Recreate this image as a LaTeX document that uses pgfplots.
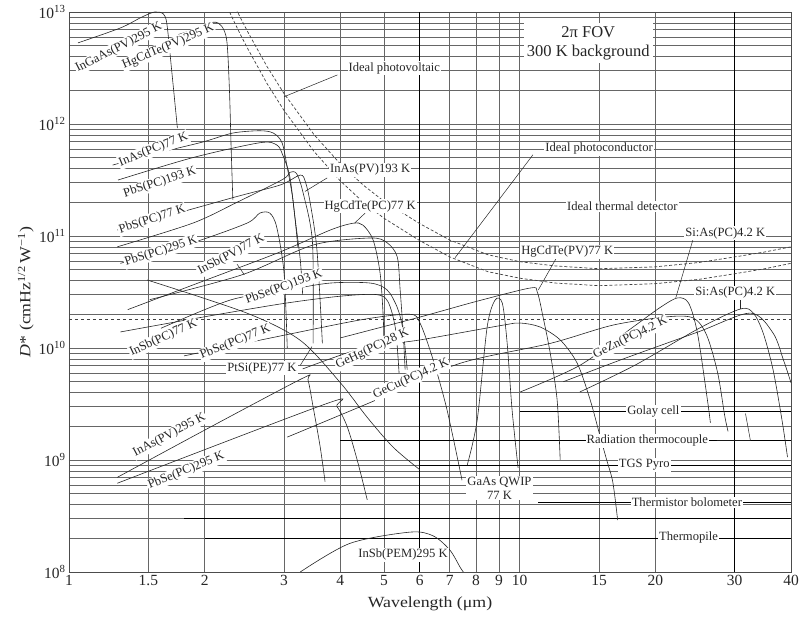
\documentclass[border=0pt]{standalone}
\usepackage{fontspec}
\setmainfont{Liberation Serif}
\newfontfamily\widefont{Liberation Serif}[FakeStretch=1.15]
\usepackage{pgfplots}
\pgfplotsset{compat=1.18}
\tikzset{
  lbl/.style={fill=white, inner sep=1.1pt, font=\fontsize{12.6}{14}\selectfont, text=black!85},
  ptr/.style={black!85, line width=0.5pt},
}
\begin{document}
\begin{tikzpicture}
\begin{axis}[
  scale only axis, width=722pt, height=560pt,
  xmode=log, ymode=log,
  xmin=1, xmax=40, ymin=1e8, ymax=1e13,
  xtick={1,1.5,2,3,4,5,6,7,8,9,10,15,20,30,40},
  xticklabels={1,1.5,2,3,4,5,6,7,8,9,10,15,20,30,40},
  minor xtick={},
  ytick={1e8,1e9,1e10,1e11,1e12,1e13},
  yticklabels={10\textsuperscript{8},10\textsuperscript{9},10\textsuperscript{10},10\textsuperscript{11},10\textsuperscript{12},10\textsuperscript{13}},
  xmajorgrids, ymajorgrids, yminorgrids,
  major grid style={black!60, line width=0.9pt},
  minor grid style={black!60, line width=0.55pt},
  major tick length=0pt, minor tick length=0pt,
  tick label style={font=\fontsize{15.5}{17}\selectfont, text=black!85},
  xlabel={\widefont Wavelength (μm)},
  ylabel={\widefont\textit{D}* (cmHz\textsuperscript{1/2}\,W\textsuperscript{−1})},
  label style={font=\fontsize{15.5}{17}\selectfont, text=black!85},
  xlabel style={yshift=-4pt},
  ylabel style={yshift=-2pt},
  axis line style={black!70, line width=0.6pt},
  every axis plot/.append style={line width=0.6pt, black!85, no markers},
]
% extra black vertical / horizontal lines
\addplot[black, line width=0.9pt] coordinates {(6,1e8)(6,1e13)};
\addplot[black, line width=1.6pt] coordinates {(30,1e8)(30,1e13)};
\addplot[black, line width=0.6pt] coordinates {(2.0,2.0e8)(40,2.0e8)};
\addplot[black, line width=0.6pt] coordinates {(1.8,3.0e8)(40,3.0e8)};
\addplot[black, line width=0.6pt] coordinates {(11,4.2e8)(40,4.2e8)};
\addplot[black, line width=0.6pt] coordinates {(6,9.0e8)(40,9.0e8)};
\addplot[black, line width=0.6pt] coordinates {(4,1.5e9)(40,1.5e9)};
\addplot[black, line width=0.6pt] coordinates {(10,2.7e9)(40,2.7e9)};
% ideal curves
\addplot[dashed, black!75, line width=0.7pt] coordinates {(1,1.81e10)(40,1.81e10)};
\addplot[densely dashed, black!75, line width=0.7pt] coordinates {(2.2,1.87e13)(2.3,1.27e13)(2.4,8.9e12)(2.5,6.5e12)(2.75,3.26e12)(3.0,1.87e12)(3.5,8.0e11)(4.0,4.4e11)(4.5,2.84e11)(5.0,2.04e11)(6.0,1.29e11)(7.0,9.2e10)(8.5,6.8e10)(10,5.9e10)(12,5.4e10)(15,5.1e10)(20,5.3e10)(25,5.8e10)(30,6.5e10)(35,7.2e10)(40,8.0e10)};
\addplot[densely dashed, black!75, line width=0.7pt] coordinates {(2.2,1.32e13)(2.3,8.98e12)(2.4,6.3e12)(2.5,4.6e12)(2.75,2.3e12)(3.0,1.32e12)(3.5,5.66e11)(4.0,3.1e11)(4.5,2.0e11)(5.0,1.44e11)(6.0,9.1e10)(7.0,6.5e10)(8.5,4.8e10)(10,4.2e10)(12,3.8e10)(15,3.6e10)(20,3.75e10)(25,4.1e10)(30,4.6e10)(35,5.1e10)(40,5.7e10)};
% detector curves
\addplot[smooth] coordinates {(1.047,5.3e12)(1.30,7.2e12)(1.45,9.0e12)(1.55,1.0e13)(1.62,9.6e12)(1.65,7.7e12)(1.69,3.0e12)(1.74,9.2e11)};
\addplot[smooth] coordinates {(1.75,6.3e12)(1.9,7.0e12)(2.09,8.1e12)(2.18,7.5e12)(2.24,5.5e12)(2.27,2.0e12)(2.29,6.0e11)(2.31,2.1e11)};
\addplot[smooth] coordinates {(1.25,4.3e11)(1.6,5.6e11)(1.98,6.9e11)(2.31,8.3e11)(2.65,8.7e11)(2.84,8.3e11)(2.97,6.8e11)(3.05,4.1e11)(3.14,2.1e11)(3.22,8e10)};
\addplot[smooth] coordinates {(1.285,3.16e11)(1.88,5.0e11)(2.65,6.8e11)(2.89,6.5e11)(2.98,5.3e11)(3.09,3.4e11)(3.17,1.5e11)(3.26,6.1e10)(3.3,3e10)};
\addplot[smooth] coordinates {(1.28,1.13e11)(2.31,2.2e11)(2.94,2.85e11)(3.26,3.5e11)(3.35,3.0e11)(3.43,1.97e11)(3.55,7.5e10)(3.65,1.1e10)};
\addplot[smooth] coordinates {(1.28,8.0e10)(1.88,1.3e11)(2.36,2.0e11)(2.98,3.2e11)(3.09,3.7e11)(3.2,3.6e11)(3.31,2.4e11)(3.47,8.7e10)(3.48,1.1e10)};
\addplot[smooth] coordinates {(1.30,5.7e10)(1.88,8.7e10)(2.48,1.3e11)(2.65,1.6e11)(2.79,1.6e11)(2.89,1.2e11)(3.0,4.7e10)(3.05,1.0e10)};
\addplot[smooth] coordinates {(1.35,2.2e10)(2.0,4.0e10)(2.94,7.2e10)(3.8,1.13e11)(4.27,1.3e11)(4.49,1.25e11)(4.73,9.2e10)(4.9,4.7e10)(4.98,1.9e10)(5.0,1.0e10)};
\addplot[smooth] coordinates {(1.51,2.7e10)(2.42,4.5e10)(3.48,8.3e10)(4.66,9.6e10)(5.08,8.7e10)(5.35,6.5e10)(5.43,3.3e10)(5.51,1.45e10)(5.57,6.4e9)};
\addplot[smooth] coordinates {(1.6,1.5e10)(2.28,2.68e10)(3.05,3.3e10)(3.8,3.8e10)(4.66,3.8e10)(5.08,3.3e10)(5.35,2.3e10)(5.51,1.45e10)(5.63,6.4e9)};
\addplot[smooth] coordinates {(1.3,1.39e10)(2.0,1.9e10)(3.0,2.5e10)(4.0,2.9e10)(4.8,3.0e10)(5.1,2.6e10)(5.3,1.5e10)(5.4,6e9)};
\addplot[smooth] coordinates {(1.8,8.5e9)(3.0,1.3e10)(4.5,1.8e10)(5.7,2.0e10)(6.01,1.67e10)(6.43,7.8e9)(6.9,2.8e9)(7.45,6.6e8)};
\addplot[smooth] coordinates {(1.49,4.05e10)(2.48,2.05e10)(3.26,1.17e10)(4.0,4.9e9)(4.59,2.4e9)(5.24,1.3e9)(6.0,8.2e8)};
\addplot[smooth] coordinates {(1.28,7.0e8)(2.06,1.97e9)(3.31,5.4e9)(3.39,5.2e9)(3.48,3.0e9)(3.61,1.3e9)(3.70,6.4e8)};
\addplot[smooth] coordinates {(1.28,6.2e8)(3.74,3.2e9)(3.93,3.0e9)(4.14,2.0e9)(4.36,1.0e9)(4.59,4.4e8)};
\addplot[smooth] coordinates {(3.26,1.0e8)(4.2,1.8e8)(5.71,2.27e8)(6.43,2.1e8)(7.0,1.57e8)(7.38,1.1e8)(7.5,1.0e8)};
\addplot[smooth] coordinates {(3.3,6.5e9)(4.5,1.0e10)(6.01,1.18e10)(9.19,1.6e10)(10.03,1.67e10)(11.1,1.54e10)(12.3,1.18e10)(13.42,7.3e9)(14.34,3.43e9)(15.1,1.6e9)(15.6,1.0e9)(16.1,6.3e8)(16.5,2.9e8)};
\addplot[smooth] coordinates {(3.05,1.6e9)(4.98,3.65e9)(7.38,7.3e9)(11.7,1.1e10)(16.1,1.6e10)(21.3,1.9e10)(24.3,1.85e10)(26.0,1.3e10)(27.5,6e9)(28.5,2.5e9)(29,1.8e9)};
\addplot[smooth] coordinates {(4.0,1.23e10)(6.01,1.89e10)(8.0,2.6e10)(10.55,3.43e10)(10.94,3.16e10)(11.27,1.89e10)(11.69,9.0e9)(12.11,3.43e9)(12.3,1.0e9)};
\addplot[smooth] coordinates {(7.65,9.0e8)(8.05,2.28e9)(8.47,1.54e10)(8.82,2.68e10)(9.15,2.52e10)(9.38,1.11e10)(9.62,2.8e9)(9.92,8.5e8)};
\addplot[smooth] coordinates {(10.03,4.05e9)(13.6,7.0e9)(17.86,1.54e10)(20.5,2.3e10)(22.4,2.8e10)(23.7,2.52e10)(24.8,1.36e10)(26.1,3.43e9)(26.5,2.14e9)};
\addplot[smooth] coordinates {(13.6,4.05e9)(18,7.0e9)(25.1,1.51e10)(30.9,2.23e10)(33.0,2.05e10)(34.7,1.36e10)(36.5,6.4e9)(38.2,2.28e9)(39.3,1.06e9)};
\addplot[smooth] coordinates {(12.5,5.0e9)(17,8.0e9)(25,1.4e10)(32.5,2.05e10)(36.5,1.36e10)(38.5,7.8e9)(40,4.9e9)};
% pointers
\draw[ptr] (axis cs:3.94,2.74e12) -- (axis cs:3.0,1.75e12);
\draw[ptr] (axis cs:10.7,5.3e11) -- (axis cs:7.19,6.4e10);
\draw[ptr] (axis cs:3.74,3.3e11) -- (axis cs:3.34,2.5e11);
\draw[ptr] (axis cs:4.54,1.6e11) -- (axis cs:4.3,1.3e11);
\draw[ptr] (axis cs:12.1,6.5e10) -- (axis cs:11.0,3.3e10);
\draw[ptr] (axis cs:24.3,9.6e10) -- (axis cs:22.2,2.8e10);
\draw[ptr] (axis cs:30.9,2.75e10) -- (axis cs:30.9,2.25e10);
\draw[ptr] (axis cs:3.26,7.0e9) -- (axis cs:3.46,1.03e10);
\draw[ptr] (axis cs:2.36,5.6e10) -- (axis cs:2.45,4.5e10);
\draw[ptr] (axis cs:27.4,1.5e9) -- (axis cs:32.5,1.5e9) -- (axis cs:31.7,2.6e9);
% labels
\node[lbl, rotate=27] at (axis cs:1.29,4.8e12) {InGaAs(PV)295 K};
\node[lbl, rotate=23] at (axis cs:1.66,4.9e12) {HgCdTe(PV)295 K};
\node[lbl] at (axis cs:5.27,3.16e12) {Ideal photovoltaic};
\node[fill=white, inner sep=3pt, align=center, font=\fontsize{16.5}{19}\selectfont, text=black!85] at (axis cs:14.2,5.3e12) {2π FOV\\300 K background};
\node[lbl] at (axis cs:15.0,6.0e11) {Ideal photoconductor};
\node[lbl] at (axis cs:16.9,1.85e11) {Ideal thermal detector};
\node[lbl] at (axis cs:28.6,1.06e11) {Si:As(PC)4.2 K};
\node[lbl] at (axis cs:30.1,3.1e10) {Si:As(PC)4.2 K};
\node[lbl] at (axis cs:12.75,7.2e10) {HgCdTe(PV)77 K};
\node[lbl] at (axis cs:4.66,3.9e11) {InAs(PV)193 K};
\node[lbl] at (axis cs:4.66,1.85e11) {HgCdTe(PC)77 K};
\node[lbl, rotate=22] at (axis cs:1.54,5.9e11) {InAs(PC)77 K};
\node[lbl, rotate=18] at (axis cs:1.59,3.0e11) {PbS(PC)193 K};
\node[lbl, rotate=18] at (axis cs:1.53,1.4e11) {PbS(PC)77 K};
\node[lbl, rotate=18] at (axis cs:1.60,7.3e10) {PbS(PC)295 K};
\node[lbl, rotate=28] at (axis cs:2.29,6.8e10) {InSb(PV)77 K};
\node[lbl, rotate=20] at (axis cs:3.0,3.5e10) {PbSe(PC)193 K};
\node[lbl, rotate=25] at (axis cs:1.62,1.23e10) {InSb(PC)77 K};
\node[lbl, rotate=22] at (axis cs:2.34,1.13e10) {PbSe(PC)77 K};
\node[lbl] at (axis cs:2.68,6.6e9) {PtSi(PE)77 K};
\node[lbl, rotate=25] at (axis cs:4.71,9.8e9) {GeHg(PC)28 K};
\node[lbl, rotate=24] at (axis cs:5.74,5.3e9) {GeCu(PC)4.2 K};
\node[lbl, rotate=28] at (axis cs:1.67,1.66e9) {InAs(PV)295 K};
\node[lbl, rotate=22] at (axis cs:1.82,8.0e8) {PbSe(PC)295 K};
\node[lbl, align=center] at (axis cs:9.02,5.6e8) {GaAs QWIP\\77 K};
\node[lbl] at (axis cs:5.51,1.42e8) {InSb(PEM)295 K};
\node[lbl, rotate=26] at (axis cs:17.6,1.23e10) {GeZn(PC)4.2 K};
\node[lbl] at (axis cs:19.8,2.7e9) {Golay cell};
\node[lbl] at (axis cs:19.2,1.48e9) {Radiation thermocouple};
\node[lbl] at (axis cs:18.9,9.0e8) {TGS Pyro};
\node[lbl] at (axis cs:23.5,4.2e8) {Thermistor bolometer};
\node[lbl] at (axis cs:23.7,2.05e8) {Thermopile};
\end{axis}
\pgfresetboundingbox
\path ([shift={(-69pt,-49pt)}]current axis.south west) rectangle ([shift={(8pt,12pt)}]current axis.north east);
\end{tikzpicture}
\end{document}
